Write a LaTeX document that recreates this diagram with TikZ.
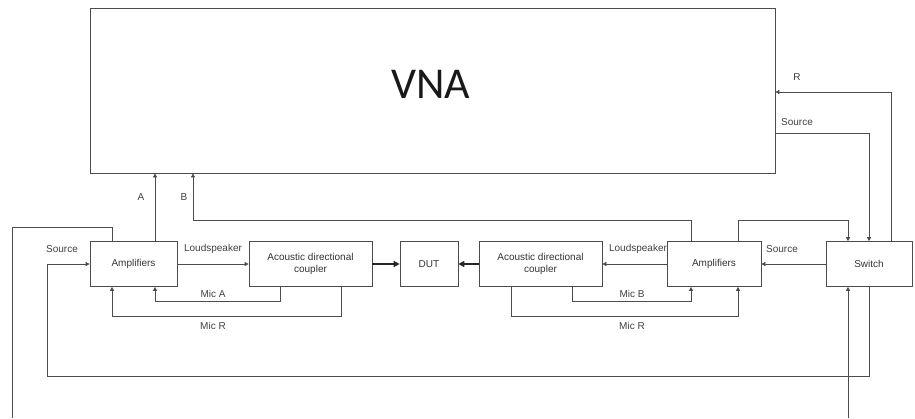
\documentclass[tikz,border=0pt]{standalone}
\usepackage{fontspec}
\setmainfont{Liberation Sans}
\newfontfamily\vnafont{Carlito}
\usetikzlibrary{arrows.meta}

\tikzset{
  block/.style={draw=black!70, line width=0.7pt, minimum height=45pt, inner sep=0pt, align=center,
    text=black!80, font=\fontsize{10}{12}\selectfont},
  wire/.style={draw=black!70, line width=0.7pt},
  arr/.style={wire, -{Triangle[length=4pt,width=4pt]}},
  bigarr/.style={draw=black!85, line width=1.6pt, -{Triangle[length=6pt,width=6pt]}},
  lbl/.style={text=black!75, font=\fontsize{10}{12}\selectfont, inner sep=1pt}
}

\begin{document}
\begin{tikzpicture}[x=1pt,y=-1pt]
          \useasboundingbox (0,0) rectangle (915,418);
          % blocks
          \node[block, minimum width=685pt, minimum height=165pt] (vna) at (432.5,90.5) {};
          \node[text=black!90, font=\vnafont\fontsize{44}{48}\selectfont] (vnatxt) at (431,84) {VNA};
          \node[block, minimum width=87pt] (ampL) at (133.5,264) {Amplifiers};
          \node[block, minimum width=123pt] (adcL) at (310.5,264) {Acoustic directional\\coupler};
          \node[block, minimum width=58pt] (dut) at (429,264) {DUT};
          \node[block, minimum width=123pt] (adcR) at (540.5,264) {Acoustic directional\\coupler};
          \node[block, minimum width=94pt] (ampR) at (714,264) {Amplifiers};
          \node[block, minimum width=86pt] (sw) at (869,264) {Switch};
          \coordinate (inL) at (12,418);
          \coordinate (inR) at (848,418);
          % signal paths
          \draw[arr] (ampL.north -| 155,0) -- (vna.south -| 155,0);
          \draw[arr] (ampR.north -| 691,0) |- (193,220) -- (vna.south -| 193,0);
          \draw[wire] (ampL.north -| 112,0) |- (12,227) -- (inL);
          \draw[arr] (inR) -- (sw.south -| inR);
          \draw[arr] (sw.south -| 869,0) |- (47,376) |- (ampL.west);
          \draw[arr] (ampL) -- (adcL);
          \draw[bigarr] (adcL) -- (dut);
          \draw[bigarr] (adcR) -- (dut);
          \draw[arr] (adcL.south -| 280,0) |- (155,301) -- (ampL.south -| 155,0);
          \draw[arr] (adcL.south -| 341,0) |- (112,316) -- (ampL.south -| 112,0);
          \draw[arr] (ampR) -- (adcR);
          \draw[arr] (adcR.south -| 572,0) |- (691,301) -- (ampR.south -| 691,0);
          \draw[arr] (adcR.south -| 511,0) |- (738,316) -- (ampR.south -| 738,0);
          \draw[arr] (sw) -- (ampR);
          \draw[arr] (ampR.north -| 738,0) |- (848,220) -- (sw.north -| 848,0);
          \draw[arr] (vna.east |- 0,133) -| (sw.north -| 869,0);
          \draw[arr] (sw.north -| 891,0) |- (vna.east |- 0,92);
          % labels
          \node[lbl] (lA) at (141,197) {A};
          \node[lbl] (lB) at (184,197) {B};
          \node[lbl] (lsrcL) at (62,249) {Source};
          \node[lbl] (lspkL) at (213,249) {Loudspeaker};
          \node[lbl] (lmicA) at (213,294) {Mic A};
          \node[lbl] (lmicRL) at (213,326) {Mic R};
          \node[lbl] (lspkR) at (638,249) {Loudspeaker};
          \node[lbl] (lmicB) at (632,294) {Mic B};
          \node[lbl] (lmicRR) at (632,326) {Mic R};
          \node[lbl] (lsrcR) at (782,249) {Source};
          \node[lbl] (lsrcV) at (797,122) {Source};
          \node[lbl] (lR) at (797,77) {R};
        \end{tikzpicture}
\end{document}
